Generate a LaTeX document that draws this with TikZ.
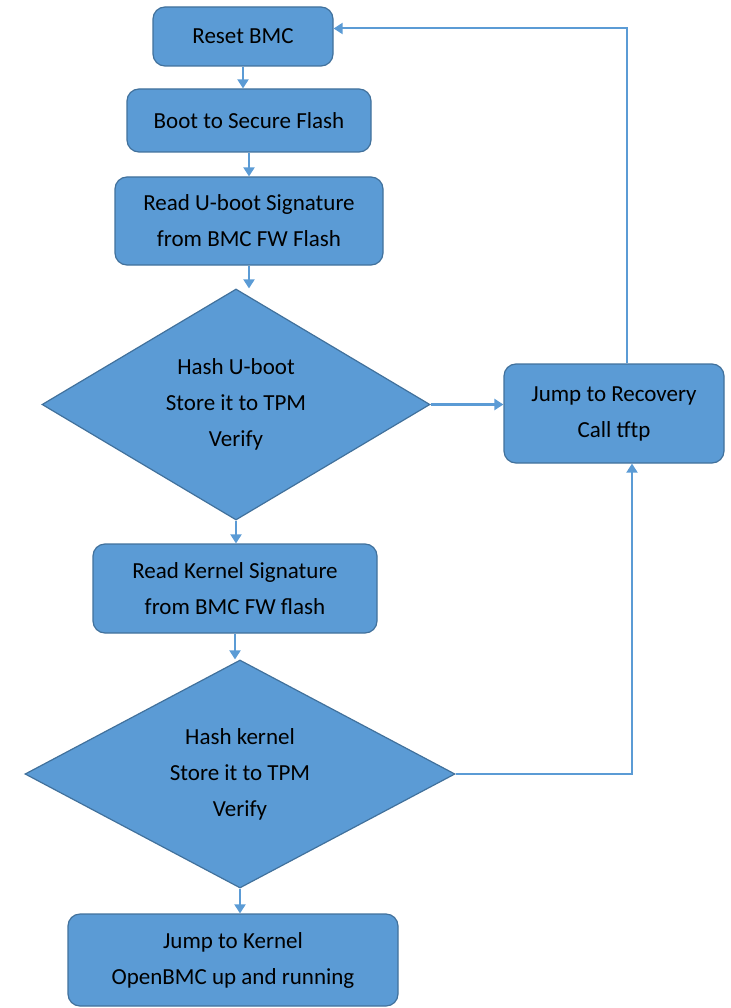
\documentclass[tikz,border=0pt]{standalone}
\usepackage{fontspec}
\setmainfont{Carlito}
\usetikzlibrary{shapes.geometric,arrows.meta}

\definecolor{boxblue}{HTML}{5B9BD5}
\definecolor{edgeblue}{HTML}{41719C}

\tikzset{
  stepbox/.style={rectangle,rounded corners=12pt,draw=edgeblue,fill=boxblue,
    line width=1.2pt,align=center,inner sep=0pt},
  testbox/.style={diamond,draw=edgeblue,fill=boxblue,line width=1.2pt,
    align=center,inner sep=0pt,aspect=1.7},
  flow/.style={draw=boxblue,line width=2pt,-{Triangle[length=9pt,width=11pt]}}
}

\begin{document}
\begin{tikzpicture}[x=1pt,y=-1pt,font=\fontsize{23}{36}\selectfont]

        \useasboundingbox (0,0) rectangle (730,1008);

        \begin{scope}[every node/.style={stepbox}]
          \node[minimum width=180pt,minimum height=59pt] (reset) at (243,36.5)  {Reset BMC};
          \node[minimum width=244pt,minimum height=63pt] (boot)  at (249,120.5) {Boot to Secure Flash};
          \node[minimum width=268pt,minimum height=88pt] (readu) at (249,221)   {Read U-boot Signature\\from BMC FW Flash};
          \node[minimum width=220pt,minimum height=99pt] (rec)   at (614,413.5) {Jump to Recovery\\Call tftp};
          \node[minimum width=284pt,minimum height=89pt] (readk) at (235,588.5) {Read Kernel Signature\\from BMC FW flash};
          \node[minimum width=330pt,minimum height=92pt] (jump)  at (233,960)   {Jump to Kernel\\OpenBMC up and running};
        \end{scope}

        \begin{scope}[every node/.style={testbox}]
          \node[minimum width=388pt,minimum height=231pt] (hashu) at (236,404.5) {Hash U-boot\\Store it to TPM\\Verify};
          \node[minimum width=430pt,minimum height=228pt] (hashk) at (240,774)   {Hash kernel\\Store it to TPM\\Verify};
        \end{scope}

        \begin{scope}[every edge/.style={flow}]
          \path (reset.south) edge (reset.south |- boot.north);
          \path (boot.south)  edge (boot.south |- readu.north);
          \path (readu.south) edge (readu.south |- hashu.north);
          \path (hashu.south) edge (hashu.south |- readk.north);
          \path (readk.south) edge (readk.south |- hashk.north);
          \path (hashk.south) edge (hashk.south |- jump.north);
          \path (hashu.east)  edge[line width=3.5pt] (hashu.east -| rec.west);
        \end{scope}

        \draw[flow] ([xshift=13pt]rec.north) |- ([yshift=8pt]reset.east);
        \draw[flow] (hashk.east) -| ([xshift=18pt]rec.south);

      \end{tikzpicture}
\end{document}
